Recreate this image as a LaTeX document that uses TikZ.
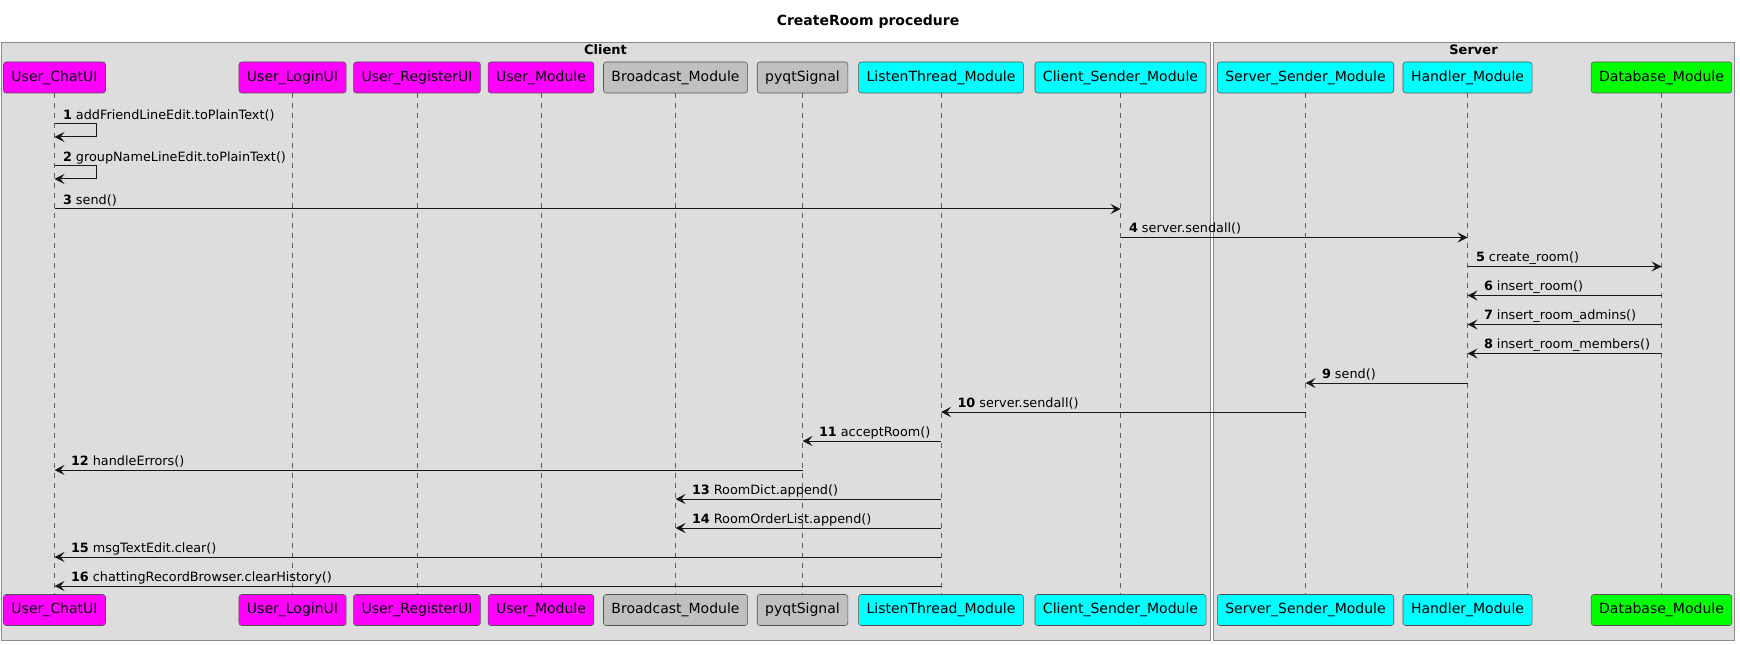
\documentclass[tikz,border=0pt]{standalone}
\usepackage{fontspec}
\setmainfont{DejaVu Sans}
\usetikzlibrary{arrows.meta}
\definecolor{frameback}{HTML}{DDDDDD}
\definecolor{frameline}{HTML}{8A8A8A}
\definecolor{ink}{HTML}{181818}
\definecolor{uimag}{HTML}{FF00FF}
\definecolor{helpgray}{HTML}{C0C0C0}
\definecolor{netcyan}{HTML}{00FFFF}
\definecolor{dbgreen}{HTML}{00FF00}
\begin{document}
\begin{tikzpicture}[x=0.75pt,y=-0.75pt,
  part/.style={draw=ink!75, rounded corners=2pt, minimum height=23.25pt, inner xsep=6pt, inner ysep=0pt, font=\fontsize{10.5}{12}\selectfont},
  life/.style={draw=ink!70, line width=0.75pt, dash pattern=on 3.75pt off 3.75pt},
  rmsg/.style={draw=ink, line width=0.75pt, -{Stealth[length=7.5pt,width=7.5pt,inset=3pt]}},
  lmsg/.style={draw=ink, line width=0.75pt, {Stealth[length=7.5pt,width=7.5pt,inset=3pt]}-},
  rlbl/.style={at start, anchor=base west, inner sep=0pt, xshift=6pt, yshift=3.6pt, font=\fontsize{9.6}{11}\selectfont},
  llbl/.style={rlbl, xshift=6pt},
  grouptitle/.style={anchor=base, inner sep=0pt, font=\bfseries\fontsize{9.75}{11}\selectfont},
]
\useasboundingbox (0,0) rectangle (1740,645);
\node[font=\bfseries\fontsize{10.5}{12}\selectfont] (title) at (868,22) {CreateRoom procedure};
\path[draw=frameline, fill=frameback, line width=0.75pt] (1,43) rectangle (1210,640);
\path[draw=frameline, fill=frameback, line width=0.75pt] (1213,43) rectangle (1734,640);
\node[grouptitle] (client) at (605.5,55) {Client};
\node[grouptitle] (server) at (1473.5,55) {Server};
\node[part, fill=uimag] (chatT) at (54.5,77.5) {User\_ChatUI};
\node[part, fill=uimag] (loginT) at (292.5,77.5) {User\_LoginUI};
\node[part, fill=uimag] (regT) at (417,77.5) {User\_RegisterUI};
\node[part, fill=uimag] (umodT) at (541,77.5) {User\_Module};
\node[part, fill=helpgray] (bcastT) at (675.5,77.5) {Broadcast\_Module};
\node[part, fill=helpgray] (pyqtT) at (802.5,77.5) {pyqtSignal};
\node[part, fill=netcyan] (listenT) at (941,77.5) {ListenThread\_Module};
\node[part, fill=netcyan] (csendT) at (1120.5,77.5) {Client\_Sender\_Module};
\node[part, fill=netcyan] (ssendT) at (1305.5,77.5) {Server\_Sender\_Module};
\node[part, fill=netcyan] (handT) at (1467.5,77.5) {Handler\_Module};
\node[part, fill=dbgreen] (dbT) at (1661.5,77.5) {Database\_Module};
\node[part, fill=uimag] (chatB) at (54.5,610) {User\_ChatUI};
\node[part, fill=uimag] (loginB) at (292.5,610) {User\_LoginUI};
\node[part, fill=uimag] (regB) at (417,610) {User\_RegisterUI};
\node[part, fill=uimag] (umodB) at (541,610) {User\_Module};
\node[part, fill=helpgray] (bcastB) at (675.5,610) {Broadcast\_Module};
\node[part, fill=helpgray] (pyqtB) at (802.5,610) {pyqtSignal};
\node[part, fill=netcyan] (listenB) at (941,610) {ListenThread\_Module};
\node[part, fill=netcyan] (csendB) at (1120.5,610) {Client\_Sender\_Module};
\node[part, fill=netcyan] (ssendB) at (1305.5,610) {Server\_Sender\_Module};
\node[part, fill=netcyan] (handB) at (1467.5,610) {Handler\_Module};
\node[part, fill=dbgreen] (dbB) at (1661.5,610) {Database\_Module};
\path[life] (chatT) -- (chatB);
\path[life] (loginT) -- (loginB);
\path[life] (regT) -- (regB);
\path[life] (umodT) -- (umodB);
\path[life] (bcastT) -- (bcastB);
\path[life] (pyqtT) -- (pyqtB);
\path[life] (listenT) -- (listenB);
\path[life] (csendT) -- (csendB);
\path[life] (ssendT) -- (ssendB);
\path[life] (handT) -- (handB);
\path[life] (dbT) -- (dbB);
\coordinate (m1) at (96,124);
\coordinate (m2) at (96,166);
\coordinate (m3) at (0,209);
\coordinate (m4) at (0,237.5);
\coordinate (m5) at (0,266.5);
\coordinate (m6) at (0,295.5);
\coordinate (m7) at (0,324.5);
\coordinate (m8) at (0,353.5);
\coordinate (m9) at (0,383);
\coordinate (m10) at (0,412);
\coordinate (m11) at (0,441);
\coordinate (m12) at (0,470);
\coordinate (m13) at (0,499);
\coordinate (m14) at (0,528);
\coordinate (m15) at (0,557);
\coordinate (m16) at (0,586);
\path[rmsg] (chatT |- m1) -- node[rlbl] {\textbf{1} addFriendLineEdit.toPlainText()} (m1) -- ++(0,13) -- ++(-41.5,0);
\path[rmsg] (chatT |- m2) -- node[rlbl] {\textbf{2} groupNameLineEdit.toPlainText()} (m2) -- ++(0,13) -- ++(-41.5,0);
\path[rmsg] (chatT |- m3) -- node[rlbl] {\textbf{3} send()} (csendT |- m3);
\path[rmsg] (csendT |- m4) -- node[rlbl] {\textbf{4} server.sendall()} (handT |- m4);
\path[rmsg] (handT |- m5) -- node[rlbl] {\textbf{5} create\_room()} (dbT |- m5);
\path[lmsg] (handT |- m6) -- node[llbl] {\textbf{6} insert\_room()} (dbT |- m6);
\path[lmsg] (handT |- m7) -- node[llbl] {\textbf{7} insert\_room\_admins()} (dbT |- m7);
\path[lmsg] (handT |- m8) -- node[llbl] {\textbf{8} insert\_room\_members()} (dbT |- m8);
\path[lmsg] (ssendT |- m9) -- node[llbl] {\textbf{9} send()} (handT |- m9);
\path[lmsg] (listenT |- m10) -- node[llbl] {\textbf{10} server.sendall()} (ssendT |- m10);
\path[lmsg] (pyqtT |- m11) -- node[llbl] {\textbf{11} acceptRoom()} (listenT |- m11);
\path[lmsg] (chatT |- m12) -- node[llbl] {\textbf{12} handleErrors()} (pyqtT |- m12);
\path[lmsg] (bcastT |- m13) -- node[llbl] {\textbf{13} RoomDict.append()} (listenT |- m13);
\path[lmsg] (bcastT |- m14) -- node[llbl] {\textbf{14} RoomOrderList.append()} (listenT |- m14);
\path[lmsg] (chatT |- m15) -- node[llbl] {\textbf{15} msgTextEdit.clear()} (listenT |- m15);
\path[lmsg] (chatT |- m16) -- node[llbl] {\textbf{16} chattingRecordBrowser.clearHistory()} (listenT |- m16);
\end{tikzpicture}
\end{document}
